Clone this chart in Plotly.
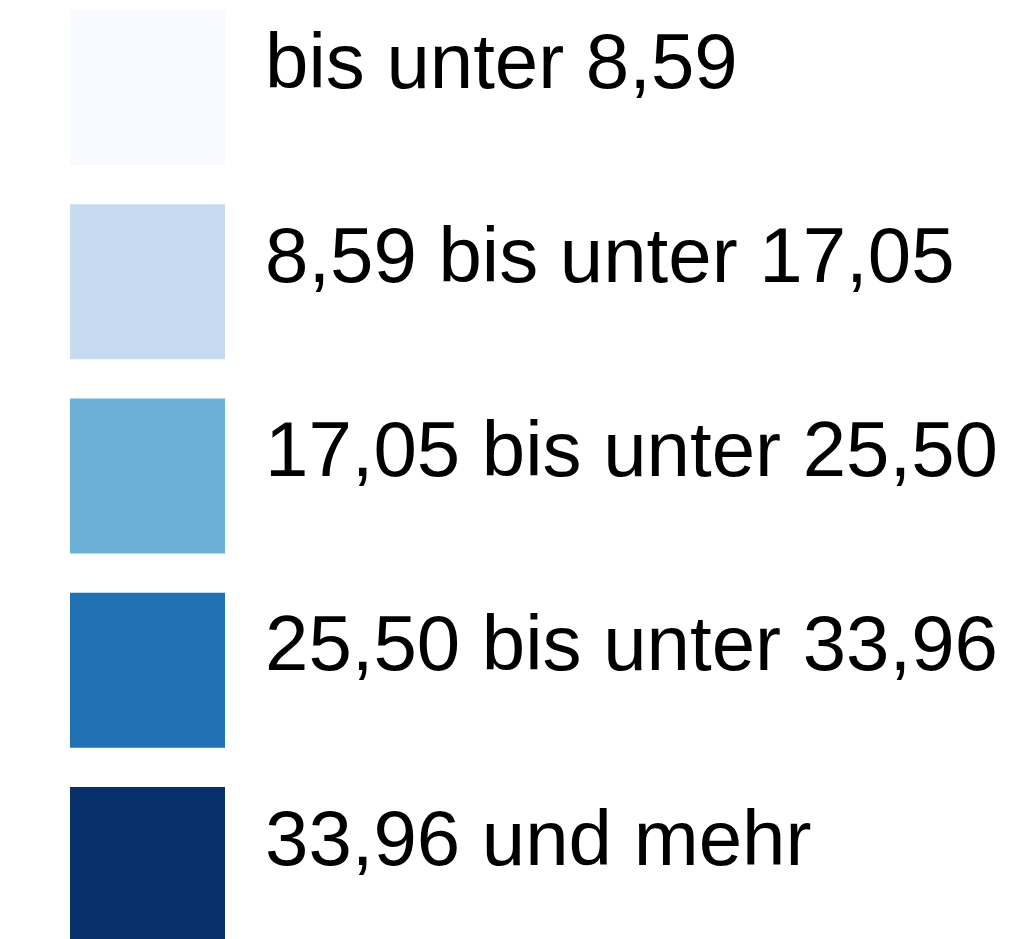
import plotly.graph_objects as go

# Legend classes (Blues palette)
class_labels = [
    "bis unter 8,59",
    "8,59 bis unter 17,05",
    "17,05 bis unter 25,50",
    "25,50 bis unter 33,96",
    "33,96 und mehr",
]
class_colors = ["#F7FBFF", "#C6DBEF", "#6BAED6", "#2171B5", "#08306B"]

W, H = 1013, 939
SQUARE = 155
font_family = "Liberation Sans, Arial, sans-serif"

fig = go.Figure()
fig.add_trace(go.Scatter(
    x=[0] * len(class_labels),
    y=class_labels,
    mode="markers",
    marker=dict(symbol="square", size=SQUARE, color=class_colors, line=dict(width=0)),
    hoverinfo="skip",
    showlegend=False,
))

for lab in class_labels:
    fig.add_annotation(
        x=0, y=lab, xref="x", yref="y",
        text=lab, showarrow=False,
        xanchor="left", yanchor="middle",
        xshift=115.5, yshift=27,
        font=dict(family=font_family, size=78, color="#000000"),
    )

fig.update_xaxes(range=[-139.5, W - 139.5], visible=False, fixedrange=True)
fig.update_yaxes(type="category", categoryorder="array", categoryarray=class_labels,
                 range=[4.4247, -0.4093], visible=False, fixedrange=True)
fig.update_layout(
    width=W, height=H,
    margin=dict(l=0, r=0, t=0, b=0),
    paper_bgcolor="white", plot_bgcolor="white",
    font=dict(family=font_family),
)

fig.write_html("out.html", config={"displayModeBar": False})
